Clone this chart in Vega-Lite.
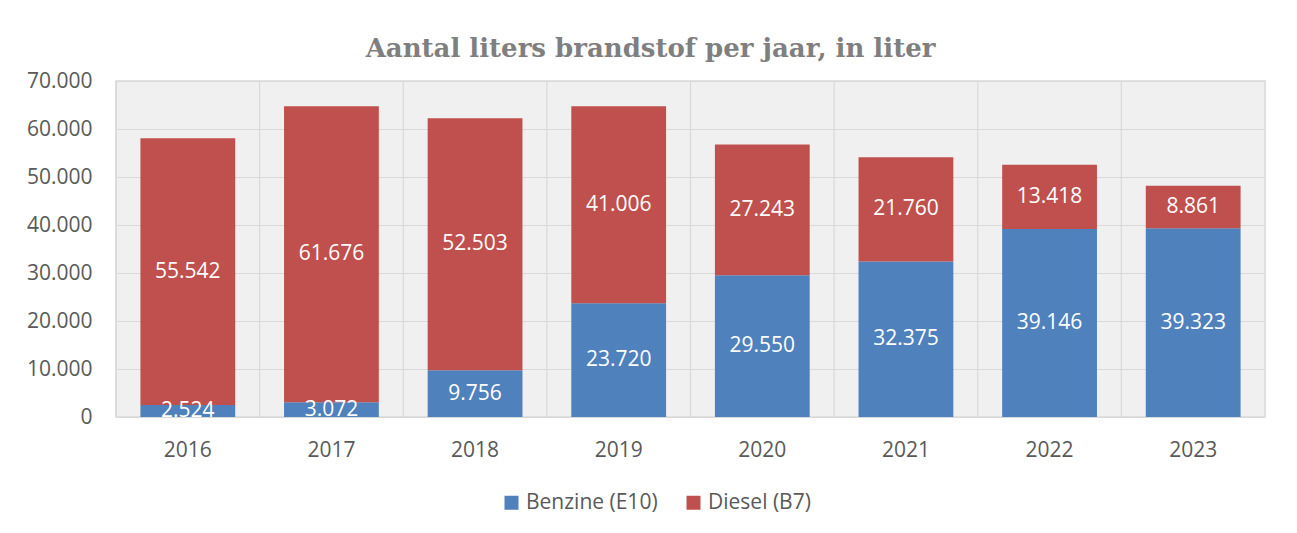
{
  "$schema": "https://vega.github.io/schema/vega-lite/v6.json",
  "width": 1149,
  "height": 336,
  "autosize": "none",
  "padding": {"left": 116, "top": 81, "right": 32, "bottom": 116},
  "background": "white",
  "title": {
    "text": "Aantal liters brandstof per jaar, in liter",
    "font": "DejaVu Serif",
    "fontSize": 26,
    "fontWeight": "bold",
    "color": "#7f7f7f",
    "anchor": "middle",
    "dx": -40,
    "offset": 8
  },
  "data": {
    "values": [
      {"jaar": "2016", "brandstof": "Benzine (E10)", "liters": 2524},
      {"jaar": "2016", "brandstof": "Diesel (B7)", "liters": 55542},
      {"jaar": "2017", "brandstof": "Benzine (E10)", "liters": 3072},
      {"jaar": "2017", "brandstof": "Diesel (B7)", "liters": 61676},
      {"jaar": "2018", "brandstof": "Benzine (E10)", "liters": 9756},
      {"jaar": "2018", "brandstof": "Diesel (B7)", "liters": 52503},
      {"jaar": "2019", "brandstof": "Benzine (E10)", "liters": 23720},
      {"jaar": "2019", "brandstof": "Diesel (B7)", "liters": 41006},
      {"jaar": "2020", "brandstof": "Benzine (E10)", "liters": 29550},
      {"jaar": "2020", "brandstof": "Diesel (B7)", "liters": 27243},
      {"jaar": "2021", "brandstof": "Benzine (E10)", "liters": 32375},
      {"jaar": "2021", "brandstof": "Diesel (B7)", "liters": 21760},
      {"jaar": "2022", "brandstof": "Benzine (E10)", "liters": 39146},
      {"jaar": "2022", "brandstof": "Diesel (B7)", "liters": 13418},
      {"jaar": "2023", "brandstof": "Benzine (E10)", "liters": 39323},
      {"jaar": "2023", "brandstof": "Diesel (B7)", "liters": 8861}
    ]
  },
  "resolve": {"axis": {"x": "independent"}},
  "layer": [
    {
      "transform": [{"filter": "datum.brandstof === 'Benzine (E10)'"}],
      "mark": {"type": "rule", "color": "#d9d9d9", "strokeWidth": 1.2},
      "encoding": {
        "x": {"field": "jaar", "type": "ordinal", "bandPosition": -0.2576, "axis": null}
      }
    },
    {
      "layer": [
        {
          "mark": {"type": "bar"},
          "encoding": {
            "x": {
              "field": "jaar",
              "type": "ordinal",
              "scale": {"paddingInner": 0.34, "paddingOuter": 0.17},
              "axis": {
                "title": null,
                "labelAngle": 0,
                "grid": false,
                "ticks": false,
                "domain": false,
                "labelPadding": 22,
                "labelFontSize": 21,
                "labelFont": "Open Sans",
                "labelColor": "#595959"
              }
            },
            "y": {
              "field": "liters",
              "type": "quantitative",
              "stack": "zero",
              "title": null,
              "scale": {"domain": [0, 70000]},
              "axis": {
                "values": [0, 10000, 20000, 30000, 40000, 50000, 60000, 70000],
                "format": ",d",
                "grid": true,
                "gridColor": "#d9d9d9",
                "gridWidth": 1.2,
                "ticks": false,
                "domain": false,
                "labelPadding": 24,
                "labelFontSize": 21,
                "labelFont": "Open Sans",
                "labelColor": "#595959"
              }
            },
            "color": {
              "field": "brandstof",
              "type": "nominal",
              "scale": {"domain": ["Benzine (E10)", "Diesel (B7)"], "range": ["#4F81BD", "#C0504D"]},
              "legend": {
                "title": null,
                "orient": "none",
                "legendX": 385,
                "legendY": 411,
                "direction": "horizontal",
                "symbolType": "square",
                "symbolSize": 196,
                "symbolStrokeWidth": 0,
                "labelFontSize": 21,
                "labelFont": "Open Sans",
                "labelColor": "#595959",
                "columnPadding": 25,
                "labelOffset": 4,
                "padding": 0
              }
            },
            "order": {"field": "brandstof"}
          }
        },
        {
          "transform": [
            {"stack": "liters", "groupby": ["jaar"], "sort": [{"field": "brandstof", "order": "ascending"}], "as": ["v0", "v1"]},
            {"fold": ["v0", "v1"], "as": ["k", "pos"]}
          ],
          "mark": {"type": "text", "clip": true, "color": "white", "font": "Open Sans", "fontSize": 21, "baseline": "middle"},
          "encoding": {
            "x": {"field": "jaar", "type": "ordinal"},
            "y": {"aggregate": "mean", "field": "pos", "type": "quantitative", "title": null},
            "text": {"field": "liters", "type": "quantitative", "format": ",d"},
            "detail": {"field": "brandstof"}
          }
        }
      ]
    }
  ],
  "config": {
    "locale": {"number": {"decimal": ",", "thousands": ".", "grouping": [3], "currency": ["€", ""]}},
    "view": {"fill": "#f0f0f0", "stroke": "#d9d9d9", "strokeWidth": 1.5}
  }
}
